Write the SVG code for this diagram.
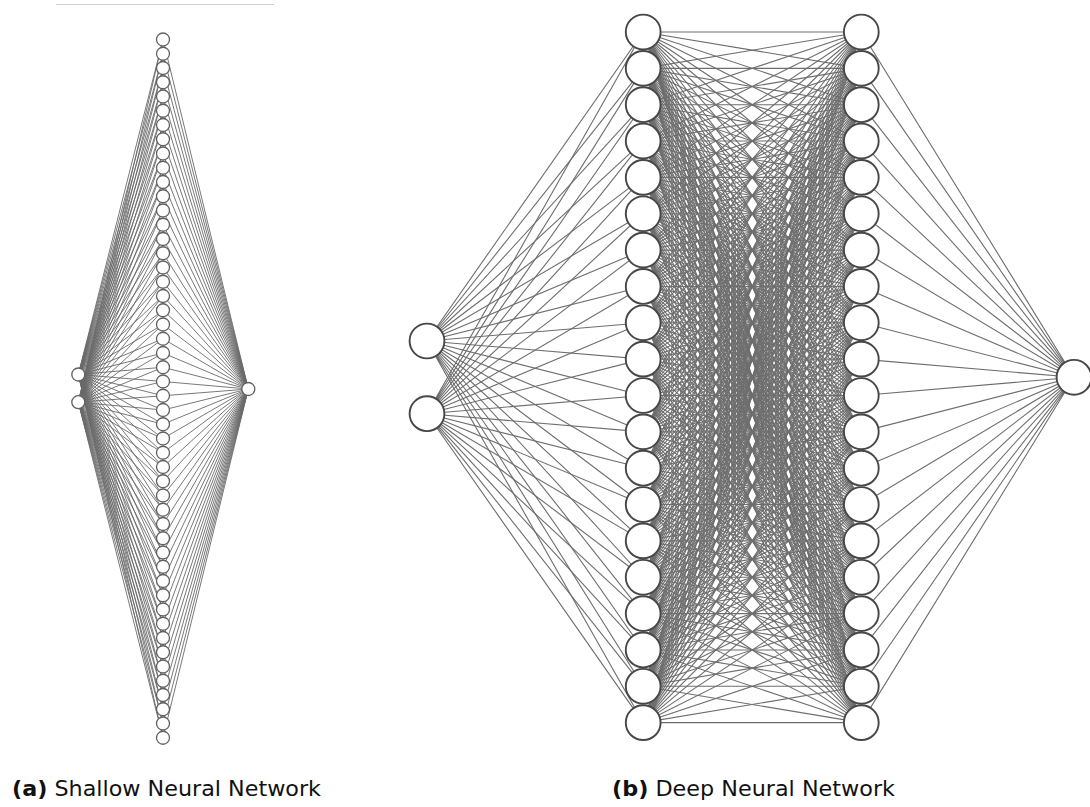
<svg xmlns="http://www.w3.org/2000/svg" xmlns:xlink="http://www.w3.org/1999/xlink" width="1090" height="807" viewBox="0 0 1090 807">
<style>
.rule{stroke:#cfcfcf;stroke-width:1.2}
.ws{fill:none;stroke:#6a6a6a;stroke-width:0.9}
.wd{fill:none;stroke:#6e6e6e;stroke-width:1.1;vector-effect:non-scaling-stroke}
.sn{fill:#fff;stroke:#606060;stroke-width:1.3}
.dn{fill:#fff;stroke:#474747;stroke-width:1.9}
.cap{font-family:"DejaVu Sans","Liberation Sans",sans-serif;font-size:21px;fill:#111}
.tag{font-weight:bold}
</style>
<defs>
<!-- all edges leaving the first unit of hidden layer 1; the other units reuse it with a skew that keeps x=861.3 fixed -->
<path id="mesh" class="wd" vector-effect="non-scaling-stroke" d="M643.2 32L861.3 32M643.2 32L861.3 68.35M643.2 32L861.3 104.7M643.2 32L861.3 141.05M643.2 32L861.3 177.4M643.2 32L861.3 213.75M643.2 32L861.3 250.1M643.2 32L861.3 286.45M643.2 32L861.3 322.8M643.2 32L861.3 359.15M643.2 32L861.3 395.5M643.2 32L861.3 431.85M643.2 32L861.3 468.2M643.2 32L861.3 504.55M643.2 32L861.3 540.9M643.2 32L861.3 577.25M643.2 32L861.3 613.6M643.2 32L861.3 649.95M643.2 32L861.3 686.3M643.2 32L861.3 722.65"/>
</defs>
<rect width="1090" height="807" fill="#fff"/>
<line class="rule" x1="56" y1="4.5" x2="274" y2="4.5"/>

<g id="connectors">
  <g id="shallow-edges" class="ws">
    <path d="M78.3 374.5L163 39.5M78.3 374.5L163 53.75M78.3 374.5L163 68M78.3 374.5L163 82.25M78.3 374.5L163 96.5M78.3 374.5L163 110.75M78.3 374.5L163 125M78.3 374.5L163 139.25M78.3 374.5L163 153.5M78.3 374.5L163 167.75M78.3 374.5L163 182M78.3 374.5L163 196.25M78.3 374.5L163 210.5M78.3 374.5L163 224.75M78.3 374.5L163 239M78.3 374.5L163 253.25M78.3 374.5L163 267.5M78.3 374.5L163 281.75M78.3 374.5L163 296M78.3 374.5L163 310.25M78.3 374.5L163 324.5M78.3 374.5L163 338.75M78.3 374.5L163 353M78.3 374.5L163 367.25M78.3 374.5L163 381.5M78.3 374.5L163 395.75M78.3 374.5L163 410M78.3 374.5L163 424.25M78.3 374.5L163 438.5M78.3 374.5L163 452.75M78.3 374.5L163 467M78.3 374.5L163 481.25M78.3 374.5L163 495.5M78.3 374.5L163 509.75M78.3 374.5L163 524M78.3 374.5L163 538.25M78.3 374.5L163 552.5M78.3 374.5L163 566.75M78.3 374.5L163 581M78.3 374.5L163 595.25M78.3 374.5L163 609.5M78.3 374.5L163 623.75M78.3 374.5L163 638M78.3 374.5L163 652.25M78.3 374.5L163 666.5M78.3 374.5L163 680.75M78.3 374.5L163 695M78.3 374.5L163 709.25M78.3 374.5L163 723.5M78.3 374.5L163 737.75"/>
    <path d="M78.3 402.2L163 39.5M78.3 402.2L163 53.75M78.3 402.2L163 68M78.3 402.2L163 82.25M78.3 402.2L163 96.5M78.3 402.2L163 110.75M78.3 402.2L163 125M78.3 402.2L163 139.25M78.3 402.2L163 153.5M78.3 402.2L163 167.75M78.3 402.2L163 182M78.3 402.2L163 196.25M78.3 402.2L163 210.5M78.3 402.2L163 224.75M78.3 402.2L163 239M78.3 402.2L163 253.25M78.3 402.2L163 267.5M78.3 402.2L163 281.75M78.3 402.2L163 296M78.3 402.2L163 310.25M78.3 402.2L163 324.5M78.3 402.2L163 338.75M78.3 402.2L163 353M78.3 402.2L163 367.25M78.3 402.2L163 381.5M78.3 402.2L163 395.75M78.3 402.2L163 410M78.3 402.2L163 424.25M78.3 402.2L163 438.5M78.3 402.2L163 452.75M78.3 402.2L163 467M78.3 402.2L163 481.25M78.3 402.2L163 495.5M78.3 402.2L163 509.75M78.3 402.2L163 524M78.3 402.2L163 538.25M78.3 402.2L163 552.5M78.3 402.2L163 566.75M78.3 402.2L163 581M78.3 402.2L163 595.25M78.3 402.2L163 609.5M78.3 402.2L163 623.75M78.3 402.2L163 638M78.3 402.2L163 652.25M78.3 402.2L163 666.5M78.3 402.2L163 680.75M78.3 402.2L163 695M78.3 402.2L163 709.25M78.3 402.2L163 723.5M78.3 402.2L163 737.75"/>
    <path d="M248.3 389L163 39.5M248.3 389L163 53.75M248.3 389L163 68M248.3 389L163 82.25M248.3 389L163 96.5M248.3 389L163 110.75M248.3 389L163 125M248.3 389L163 139.25M248.3 389L163 153.5M248.3 389L163 167.75M248.3 389L163 182M248.3 389L163 196.25M248.3 389L163 210.5M248.3 389L163 224.75M248.3 389L163 239M248.3 389L163 253.25M248.3 389L163 267.5M248.3 389L163 281.75M248.3 389L163 296M248.3 389L163 310.25M248.3 389L163 324.5M248.3 389L163 338.75M248.3 389L163 353M248.3 389L163 367.25M248.3 389L163 381.5M248.3 389L163 395.75M248.3 389L163 410M248.3 389L163 424.25M248.3 389L163 438.5M248.3 389L163 452.75M248.3 389L163 467M248.3 389L163 481.25M248.3 389L163 495.5M248.3 389L163 509.75M248.3 389L163 524M248.3 389L163 538.25M248.3 389L163 552.5M248.3 389L163 566.75M248.3 389L163 581M248.3 389L163 595.25M248.3 389L163 609.5M248.3 389L163 623.75M248.3 389L163 638M248.3 389L163 652.25M248.3 389L163 666.5M248.3 389L163 680.75M248.3 389L163 695M248.3 389L163 709.25M248.3 389L163 723.5M248.3 389L163 737.75"/>
  </g>
  <g id="deep-edges" class="wd">
    <path d="M427 341L643.2 32M427 341L643.2 68.35M427 341L643.2 104.7M427 341L643.2 141.05M427 341L643.2 177.4M427 341L643.2 213.75M427 341L643.2 250.1M427 341L643.2 286.45M427 341L643.2 322.8M427 341L643.2 359.15M427 341L643.2 395.5M427 341L643.2 431.85M427 341L643.2 468.2M427 341L643.2 504.55M427 341L643.2 540.9M427 341L643.2 577.25M427 341L643.2 613.6M427 341L643.2 649.95M427 341L643.2 686.3M427 341L643.2 722.65"/>
    <path d="M427 413.7L643.2 32M427 413.7L643.2 68.35M427 413.7L643.2 104.7M427 413.7L643.2 141.05M427 413.7L643.2 177.4M427 413.7L643.2 213.75M427 413.7L643.2 250.1M427 413.7L643.2 286.45M427 413.7L643.2 322.8M427 413.7L643.2 359.15M427 413.7L643.2 395.5M427 413.7L643.2 431.85M427 413.7L643.2 468.2M427 413.7L643.2 504.55M427 413.7L643.2 540.9M427 413.7L643.2 577.25M427 413.7L643.2 613.6M427 413.7L643.2 649.95M427 413.7L643.2 686.3M427 413.7L643.2 722.65"/>
    <use xlink:href="#mesh" href="#mesh"/>
    <use xlink:href="#mesh" href="#mesh" transform="matrix(1,-0.1666667,0,1,0,143.55)"/>
    <use xlink:href="#mesh" href="#mesh" transform="matrix(1,-0.3333333,0,1,0,287.1)"/>
    <use xlink:href="#mesh" href="#mesh" transform="matrix(1,-0.5,0,1,0,430.65)"/>
    <use xlink:href="#mesh" href="#mesh" transform="matrix(1,-0.6666667,0,1,0,574.2)"/>
    <use xlink:href="#mesh" href="#mesh" transform="matrix(1,-0.8333333,0,1,0,717.75)"/>
    <use xlink:href="#mesh" href="#mesh" transform="matrix(1,-1,0,1,0,861.3)"/>
    <use xlink:href="#mesh" href="#mesh" transform="matrix(1,-1.1666667,0,1,0,1004.85)"/>
    <use xlink:href="#mesh" href="#mesh" transform="matrix(1,-1.3333333,0,1,0,1148.4)"/>
    <use xlink:href="#mesh" href="#mesh" transform="matrix(1,-1.5,0,1,0,1291.95)"/>
    <use xlink:href="#mesh" href="#mesh" transform="matrix(1,-1.6666667,0,1,0,1435.5)"/>
    <use xlink:href="#mesh" href="#mesh" transform="matrix(1,-1.8333333,0,1,0,1579.05)"/>
    <use xlink:href="#mesh" href="#mesh" transform="matrix(1,-2,0,1,0,1722.6)"/>
    <use xlink:href="#mesh" href="#mesh" transform="matrix(1,-2.1666667,0,1,0,1866.15)"/>
    <use xlink:href="#mesh" href="#mesh" transform="matrix(1,-2.3333333,0,1,0,2009.7)"/>
    <use xlink:href="#mesh" href="#mesh" transform="matrix(1,-2.5,0,1,0,2153.25)"/>
    <use xlink:href="#mesh" href="#mesh" transform="matrix(1,-2.6666667,0,1,0,2296.8)"/>
    <use xlink:href="#mesh" href="#mesh" transform="matrix(1,-2.8333333,0,1,0,2440.35)"/>
    <use xlink:href="#mesh" href="#mesh" transform="matrix(1,-3,0,1,0,2583.9)"/>
    <use xlink:href="#mesh" href="#mesh" transform="matrix(1,-3.1666667,0,1,0,2727.45)"/>
    <path d="M1074 377.3L861.3 32M1074 377.3L861.3 68.35M1074 377.3L861.3 104.7M1074 377.3L861.3 141.05M1074 377.3L861.3 177.4M1074 377.3L861.3 213.75M1074 377.3L861.3 250.1M1074 377.3L861.3 286.45M1074 377.3L861.3 322.8M1074 377.3L861.3 359.15M1074 377.3L861.3 395.5M1074 377.3L861.3 431.85M1074 377.3L861.3 468.2M1074 377.3L861.3 504.55M1074 377.3L861.3 540.9M1074 377.3L861.3 577.25M1074 377.3L861.3 613.6M1074 377.3L861.3 649.95M1074 377.3L861.3 686.3M1074 377.3L861.3 722.65"/>
  </g>
</g>

<!-- shallow network: 2 inputs, 50 hidden units, 1 output -->
<g id="shallow-nodes">
  <g id="s-in1"><circle class="sn" cx="78.3" cy="374.5" r="6.5"/></g>
  <g id="s-in2"><circle class="sn" cx="78.3" cy="402.2" r="6.5"/></g>
  <g id="s-out"><circle class="sn" cx="248.3" cy="389" r="6.5"/></g>
  <g id="s-h01"><circle class="sn" cx="163" cy="39.5" r="6.5"/></g>
  <g id="s-h02"><circle class="sn" cx="163" cy="53.75" r="6.5"/></g>
  <g id="s-h03"><circle class="sn" cx="163" cy="68" r="6.5"/></g>
  <g id="s-h04"><circle class="sn" cx="163" cy="82.25" r="6.5"/></g>
  <g id="s-h05"><circle class="sn" cx="163" cy="96.5" r="6.5"/></g>
  <g id="s-h06"><circle class="sn" cx="163" cy="110.75" r="6.5"/></g>
  <g id="s-h07"><circle class="sn" cx="163" cy="125" r="6.5"/></g>
  <g id="s-h08"><circle class="sn" cx="163" cy="139.25" r="6.5"/></g>
  <g id="s-h09"><circle class="sn" cx="163" cy="153.5" r="6.5"/></g>
  <g id="s-h10"><circle class="sn" cx="163" cy="167.75" r="6.5"/></g>
  <g id="s-h11"><circle class="sn" cx="163" cy="182" r="6.5"/></g>
  <g id="s-h12"><circle class="sn" cx="163" cy="196.25" r="6.5"/></g>
  <g id="s-h13"><circle class="sn" cx="163" cy="210.5" r="6.5"/></g>
  <g id="s-h14"><circle class="sn" cx="163" cy="224.75" r="6.5"/></g>
  <g id="s-h15"><circle class="sn" cx="163" cy="239" r="6.5"/></g>
  <g id="s-h16"><circle class="sn" cx="163" cy="253.25" r="6.5"/></g>
  <g id="s-h17"><circle class="sn" cx="163" cy="267.5" r="6.5"/></g>
  <g id="s-h18"><circle class="sn" cx="163" cy="281.75" r="6.5"/></g>
  <g id="s-h19"><circle class="sn" cx="163" cy="296" r="6.5"/></g>
  <g id="s-h20"><circle class="sn" cx="163" cy="310.25" r="6.5"/></g>
  <g id="s-h21"><circle class="sn" cx="163" cy="324.5" r="6.5"/></g>
  <g id="s-h22"><circle class="sn" cx="163" cy="338.75" r="6.5"/></g>
  <g id="s-h23"><circle class="sn" cx="163" cy="353" r="6.5"/></g>
  <g id="s-h24"><circle class="sn" cx="163" cy="367.25" r="6.5"/></g>
  <g id="s-h25"><circle class="sn" cx="163" cy="381.5" r="6.5"/></g>
  <g id="s-h26"><circle class="sn" cx="163" cy="395.75" r="6.5"/></g>
  <g id="s-h27"><circle class="sn" cx="163" cy="410" r="6.5"/></g>
  <g id="s-h28"><circle class="sn" cx="163" cy="424.25" r="6.5"/></g>
  <g id="s-h29"><circle class="sn" cx="163" cy="438.5" r="6.5"/></g>
  <g id="s-h30"><circle class="sn" cx="163" cy="452.75" r="6.5"/></g>
  <g id="s-h31"><circle class="sn" cx="163" cy="467" r="6.5"/></g>
  <g id="s-h32"><circle class="sn" cx="163" cy="481.25" r="6.5"/></g>
  <g id="s-h33"><circle class="sn" cx="163" cy="495.5" r="6.5"/></g>
  <g id="s-h34"><circle class="sn" cx="163" cy="509.75" r="6.5"/></g>
  <g id="s-h35"><circle class="sn" cx="163" cy="524" r="6.5"/></g>
  <g id="s-h36"><circle class="sn" cx="163" cy="538.25" r="6.5"/></g>
  <g id="s-h37"><circle class="sn" cx="163" cy="552.5" r="6.5"/></g>
  <g id="s-h38"><circle class="sn" cx="163" cy="566.75" r="6.5"/></g>
  <g id="s-h39"><circle class="sn" cx="163" cy="581" r="6.5"/></g>
  <g id="s-h40"><circle class="sn" cx="163" cy="595.25" r="6.5"/></g>
  <g id="s-h41"><circle class="sn" cx="163" cy="609.5" r="6.5"/></g>
  <g id="s-h42"><circle class="sn" cx="163" cy="623.75" r="6.5"/></g>
  <g id="s-h43"><circle class="sn" cx="163" cy="638" r="6.5"/></g>
  <g id="s-h44"><circle class="sn" cx="163" cy="652.25" r="6.5"/></g>
  <g id="s-h45"><circle class="sn" cx="163" cy="666.5" r="6.5"/></g>
  <g id="s-h46"><circle class="sn" cx="163" cy="680.75" r="6.5"/></g>
  <g id="s-h47"><circle class="sn" cx="163" cy="695" r="6.5"/></g>
  <g id="s-h48"><circle class="sn" cx="163" cy="709.25" r="6.5"/></g>
  <g id="s-h49"><circle class="sn" cx="163" cy="723.5" r="6.5"/></g>
  <g id="s-h50"><circle class="sn" cx="163" cy="737.75" r="6.5"/></g>
</g>

<!-- deep network: 2 inputs, two hidden layers of 20, 1 output -->
<g id="deep-nodes">
  <g id="d-in1"><circle class="dn" cx="427" cy="341" r="17.4"/></g>
  <g id="d-in2"><circle class="dn" cx="427" cy="413.7" r="17.4"/></g>
  <g id="d-out"><circle class="dn" cx="1074" cy="377.3" r="17.4"/></g>
  <g id="d-a01"><circle class="dn" cx="643.2" cy="32" r="17.4"/></g>
  <g id="d-a02"><circle class="dn" cx="643.2" cy="68.35" r="17.4"/></g>
  <g id="d-a03"><circle class="dn" cx="643.2" cy="104.7" r="17.4"/></g>
  <g id="d-a04"><circle class="dn" cx="643.2" cy="141.05" r="17.4"/></g>
  <g id="d-a05"><circle class="dn" cx="643.2" cy="177.4" r="17.4"/></g>
  <g id="d-a06"><circle class="dn" cx="643.2" cy="213.75" r="17.4"/></g>
  <g id="d-a07"><circle class="dn" cx="643.2" cy="250.1" r="17.4"/></g>
  <g id="d-a08"><circle class="dn" cx="643.2" cy="286.45" r="17.4"/></g>
  <g id="d-a09"><circle class="dn" cx="643.2" cy="322.8" r="17.4"/></g>
  <g id="d-a10"><circle class="dn" cx="643.2" cy="359.15" r="17.4"/></g>
  <g id="d-a11"><circle class="dn" cx="643.2" cy="395.5" r="17.4"/></g>
  <g id="d-a12"><circle class="dn" cx="643.2" cy="431.85" r="17.4"/></g>
  <g id="d-a13"><circle class="dn" cx="643.2" cy="468.2" r="17.4"/></g>
  <g id="d-a14"><circle class="dn" cx="643.2" cy="504.55" r="17.4"/></g>
  <g id="d-a15"><circle class="dn" cx="643.2" cy="540.9" r="17.4"/></g>
  <g id="d-a16"><circle class="dn" cx="643.2" cy="577.25" r="17.4"/></g>
  <g id="d-a17"><circle class="dn" cx="643.2" cy="613.6" r="17.4"/></g>
  <g id="d-a18"><circle class="dn" cx="643.2" cy="649.95" r="17.4"/></g>
  <g id="d-a19"><circle class="dn" cx="643.2" cy="686.3" r="17.4"/></g>
  <g id="d-a20"><circle class="dn" cx="643.2" cy="722.65" r="17.4"/></g>
  <g id="d-b01"><circle class="dn" cx="861.3" cy="32" r="17.4"/></g>
  <g id="d-b02"><circle class="dn" cx="861.3" cy="68.35" r="17.4"/></g>
  <g id="d-b03"><circle class="dn" cx="861.3" cy="104.7" r="17.4"/></g>
  <g id="d-b04"><circle class="dn" cx="861.3" cy="141.05" r="17.4"/></g>
  <g id="d-b05"><circle class="dn" cx="861.3" cy="177.4" r="17.4"/></g>
  <g id="d-b06"><circle class="dn" cx="861.3" cy="213.75" r="17.4"/></g>
  <g id="d-b07"><circle class="dn" cx="861.3" cy="250.1" r="17.4"/></g>
  <g id="d-b08"><circle class="dn" cx="861.3" cy="286.45" r="17.4"/></g>
  <g id="d-b09"><circle class="dn" cx="861.3" cy="322.8" r="17.4"/></g>
  <g id="d-b10"><circle class="dn" cx="861.3" cy="359.15" r="17.4"/></g>
  <g id="d-b11"><circle class="dn" cx="861.3" cy="395.5" r="17.4"/></g>
  <g id="d-b12"><circle class="dn" cx="861.3" cy="431.85" r="17.4"/></g>
  <g id="d-b13"><circle class="dn" cx="861.3" cy="468.2" r="17.4"/></g>
  <g id="d-b14"><circle class="dn" cx="861.3" cy="504.55" r="17.4"/></g>
  <g id="d-b15"><circle class="dn" cx="861.3" cy="540.9" r="17.4"/></g>
  <g id="d-b16"><circle class="dn" cx="861.3" cy="577.25" r="17.4"/></g>
  <g id="d-b17"><circle class="dn" cx="861.3" cy="613.6" r="17.4"/></g>
  <g id="d-b18"><circle class="dn" cx="861.3" cy="649.95" r="17.4"/></g>
  <g id="d-b19"><circle class="dn" cx="861.3" cy="686.3" r="17.4"/></g>
  <g id="d-b20"><circle class="dn" cx="861.3" cy="722.65" r="17.4"/></g>
</g>

<g id="captions">
  <text class="cap" x="12" y="796" textLength="309" lengthAdjust="spacingAndGlyphs"><tspan class="tag">(a)</tspan> Shallow Neural Network</text>
  <text class="cap" x="612" y="796" textLength="283" lengthAdjust="spacingAndGlyphs"><tspan class="tag">(b)</tspan> Deep Neural Network</text>
</g>
</svg>
